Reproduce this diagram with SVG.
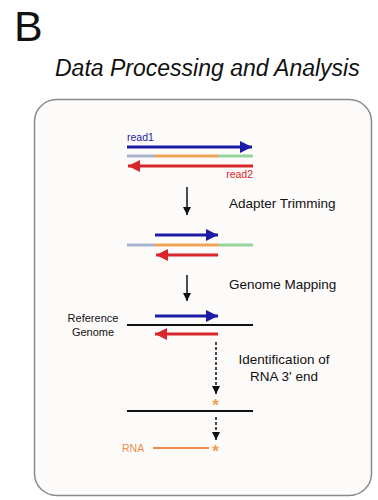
<svg xmlns="http://www.w3.org/2000/svg" width="378" height="500" viewBox="0 0 378 500">
<style>
text{font-family:"Liberation Sans",Arial,sans-serif}
.lbl{font-size:13.5px;fill:#111}
.sm{font-size:11px;fill:#111}
.blue{stroke:#1c1ca6;stroke-width:3;fill:none}
.red{stroke:#d8262a;stroke-width:3;fill:none}
.gb{stroke:#a6b4cc;stroke-width:3}
.or{stroke:#f0a458;stroke-width:3}
.gr{stroke:#98d49a;stroke-width:3}
.blk{stroke:#111;stroke-width:1.5;fill:none}
.dash{stroke:#111;stroke-width:1.5;stroke-dasharray:3,2;fill:none}
.star{fill:#f0a050;font-size:17px;font-weight:bold}
</style>
<defs>
<marker id="ab" viewBox="0 0 10 10" refX="10" refY="5" markerWidth="4" markerHeight="4" orient="auto" markerUnits="strokeWidth"><path d="M0,0L10,5L0,10z" fill="#1c1ca6"/></marker>
<marker id="ar" viewBox="0 0 10 10" refX="10" refY="5" markerWidth="4" markerHeight="4" orient="auto" markerUnits="strokeWidth"><path d="M0,0L10,5L0,10z" fill="#d8262a"/></marker>
<marker id="ak" viewBox="0 0 10 10" refX="10" refY="5" markerWidth="5.5" markerHeight="5.5" orient="auto" markerUnits="strokeWidth"><path d="M0,0L10,5L0,10z" fill="#111"/></marker>
</defs>
<text x="14" y="41" font-size="43" fill="#111">B</text>
<text x="55" y="76" font-size="23" font-style="italic" fill="#111">Data Processing and Analysis</text>
<rect id="panel" x="34.5" y="99.5" width="337" height="396" rx="22" fill="#fdfafa" stroke="#8a8a8a" stroke-width="1.5"/>
<g id="reads">
<text x="127" y="141" font-size="10.5" fill="#1c1ca6">read1</text>
<line class="blue" x1="127" y1="147" x2="252" y2="147" marker-end="url(#ab)"/>
<line class="gb" x1="127" y1="156" x2="155" y2="156"/>
<line class="or" x1="155" y1="156" x2="218" y2="156"/>
<line class="gr" x1="218" y1="156" x2="253" y2="156"/>
<line class="red" x1="253" y1="166" x2="128" y2="166" marker-end="url(#ar)"/>
<text x="253" y="178" font-size="10.5" fill="#d8262a" text-anchor="end">read2</text>
</g>
<g id="trimmed">
<line class="blue" x1="155" y1="235" x2="218" y2="235" marker-end="url(#ab)"/>
<line class="gb" x1="127" y1="245" x2="155" y2="245"/>
<line class="or" x1="155" y1="245" x2="218" y2="245"/>
<line class="gr" x1="218" y1="245" x2="253" y2="245"/>
<line class="red" x1="218" y1="255" x2="156" y2="255" marker-end="url(#ar)"/>
</g>
<g id="mapped">
<text class="sm" x="93" y="322" text-anchor="middle">Reference</text>
<text class="sm" x="93" y="336" text-anchor="middle">Genome</text>
<line class="blue" x1="155" y1="316" x2="218" y2="316" marker-end="url(#ab)"/>
<line x1="127" y1="325" x2="253" y2="325" stroke="#111" stroke-width="2"/>
<line class="red" x1="218" y1="334" x2="155" y2="334" marker-end="url(#ar)"/>
</g>
<g id="end">
<text class="star" x="215.5" y="411" text-anchor="middle">*</text>
<line x1="127" y1="411" x2="253" y2="411" stroke="#111" stroke-width="2"/>
</g>
<g id="rna">
<text x="122" y="452" font-size="10.5" fill="#f08c48">RNA</text>
<line x1="153" y1="448" x2="209" y2="448" stroke="#f08c48" stroke-width="2"/>
<text class="star" x="215.5" y="457" text-anchor="middle">*</text>
</g>
<g id="connectors">
<line class="blk" x1="187" y1="187" x2="187" y2="215" marker-end="url(#ak)"/>
<line class="blk" x1="187" y1="275" x2="187" y2="301" marker-end="url(#ak)"/>
<line class="dash" x1="216" y1="342" x2="216" y2="394" marker-end="url(#ak)"/>
<line class="dash" x1="216" y1="417" x2="216" y2="440" marker-end="url(#ak)"/>
</g>
<g id="labels">
<text class="lbl" x="229" y="208">Adapter Trimming</text>
<text class="lbl" x="229" y="289">Genome Mapping</text>
<text class="lbl" x="284" y="364" text-anchor="middle">Identification of</text>
<text class="lbl" x="284" y="381" text-anchor="middle">RNA 3' end</text>
</g>
</svg>
